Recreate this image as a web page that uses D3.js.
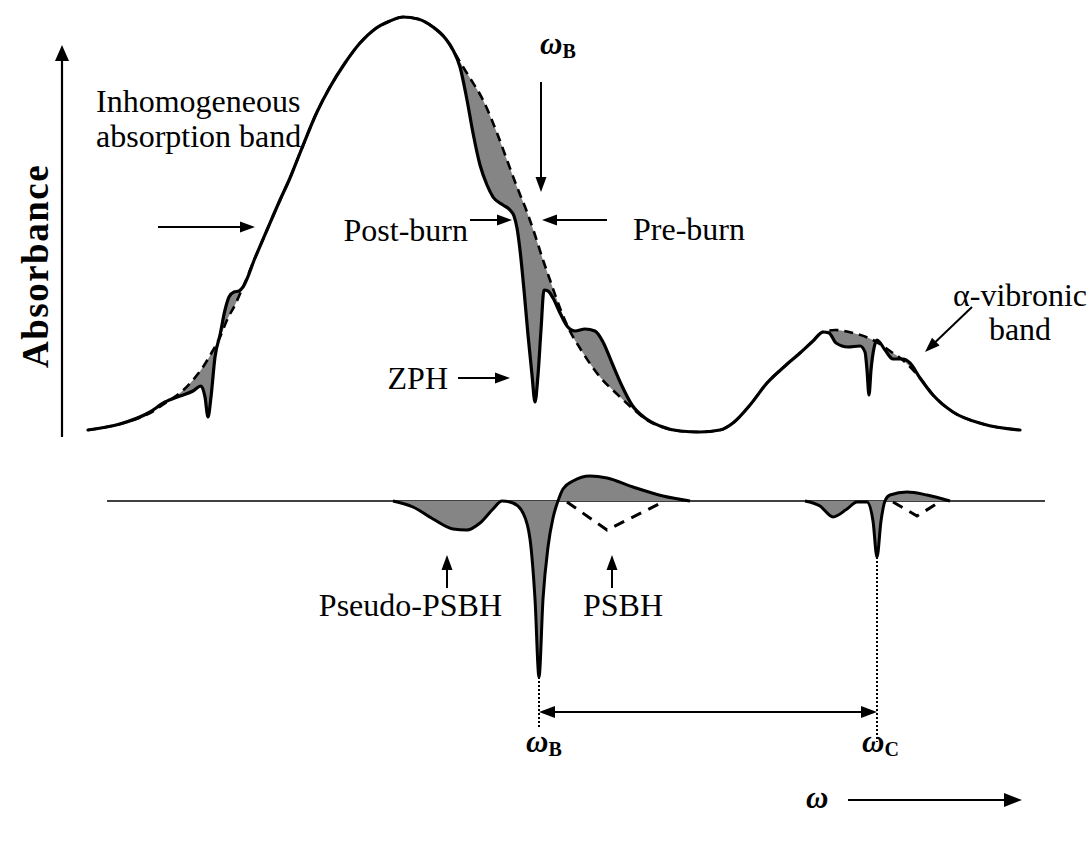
<!DOCTYPE html>
<html>
<head>
<meta charset="utf-8">
<script src="https://cdn.jsdelivr.net/npm/d3@7"></script>
<style>
  body { margin: 0; background: #fff; }
  svg { display: block; }
  text { font-family: "Liberation Serif", "Times New Roman", serif; fill: #000; }
</style>
</head>
<body>
<svg id="fig" width="1092" height="842"></svg>
<script>
// ---- Absorption spectra, [ω (arb. units), absorbance (arb. units)] ----
// Low-energy wing with the satellite hole and its antihole
const leftWingPre  = [[0,0.5],[3.2,2],[6.2,4.75],[7.9,7.5],[9.2,9.75],[10.5,13],[11.5,16.25],[12.4,20],[13.2,23.75],[14.0,28.5],[14.7,31.75]];
const leftWingPost = [[0,0.5],[3.2,2],[6.2,5],[7.7,7.5],[9.2,9],[10.5,10.25],[11.3,11.5],[11.7,8.75],[12.0,3.75],[12.3,8.75],[12.7,18.75],[13.2,24.25],[13.7,30.5],[14.1,33.75],[14.6,35],[15.1,35.25]];
// Rising edge and top of the inhomogeneous band (unchanged by burning)
const bandRise     = [[15.5,36.25],[16.7,43.5],[17.9,50.5],[19.2,58],[20.2,63.5],[21.2,69.75],[22.9,80],[24.2,86.25],[25.7,92.25],[27.2,97.25],[28.7,100.75],[30.2,102.75],[31.5,103.75],[33.0,103.25],[34.5,101.25],[35.7,98.5],[36.5,95.5]];
// High-energy side: pseudo-PSBH, ZPH and antihole
const blueSidePre  = [[37.2,92.5],[38.2,88.5],[39.5,83],[40.9,74.75],[41.9,68],[42.9,61.25],[43.9,55],[44.7,49.25],[45.5,43],[46.2,38],[46.9,33],[47.9,26.75],[49.5,19.75],[51.2,13.75],[52.9,9.5],[54.4,6],[55.9,3],[57.4,1.25],[59.2,0.25]];
const blueSidePost = [[37.2,91.25],[37.9,83],[38.5,74.75],[39.2,66.75],[39.9,61.75],[40.5,58.75],[41.5,56.75],[42.2,55.5],[42.6,54],[42.9,51],[43.2,45.5],[43.6,35.5],[44.0,24.25],[44.4,14.25],[44.7,7.5],[45.0,14.25],[45.3,25.5],[45.6,35.5],[46.0,35.25],[46.5,33.5],[47.2,29.75],[47.9,26.5],[48.7,25.25],[49.7,25.75],[50.7,25.25],[51.5,22.5],[52.4,17.25],[53.4,11.5],[54.4,6.75],[55.7,3.5],[57.2,1.5],[59.2,0.25]];
// Valley and rising edge of the α-vibronic band
const valley       = [[61.2,0],[63.2,0.5],[64.5,2.25],[66.2,6.75],[67.9,12.25],[69.7,16.5],[71.2,19.75],[72.5,22.75],[73.5,25]];
const vibronicPre  = [[74.7,25.5],[76.5,24.75],[78.5,23],[80.2,20.25],[81.7,17.5]];
const vibronicPost = [[74.1,24.75],[74.8,22.25],[76.0,21.25],[77.2,21.5],[77.7,20],[77.9,15.5],[78.1,9.25],[78.3,15.5],[78.6,21],[78.9,23],[79.7,20.5],[80.5,18.25],[81.5,18.25],[82.2,17.25]];
const highTail     = [[83.2,13.5],[84.5,9.25],[86.5,5],[89.5,2],[93.2,0.5]];

const preBurn  = [...leftWingPre,  ...bandRise, ...blueSidePre,  ...valley, ...vibronicPre,  ...highTail];
const postBurn = [...leftWingPost, ...bandRise, ...blueSidePost, ...valley, ...vibronicPost, ...highTail];

// ---- Hole spectra (post-burn minus pre-burn), [ω, ΔA] ----
const holeAtB = [[30.5,0],[32.5,-1.5],[34.5,-4.5],[36.5,-7],[37.9,-7.25],[39.2,-5.5],[40.5,-2],[41.4,0],[42.5,-0.5],[43.5,-3],[44.2,-9.5],[44.7,-24.5],[45.1,-44],[45.5,-24.5],[46.0,-11.5],[46.5,-4.25],[47.0,0],[47.5,3],[48.5,5],[50.2,6.25],[51.9,5.75],[54.5,3.5],[57.5,1.25],[60.2,0]];
const holeAtC = [[71.7,0],[73.2,-1.25],[74.5,-4],[75.9,-2],[76.9,-0.25],[77.9,-0.25],[78.5,-5],[78.9,-14],[79.3,-5],[79.7,0],[80.2,1.5],[81.9,2.25],[83.9,1.5],[86.2,0]];
// Real phonon-sideband holes hidden under the antiholes
const psbhAtB = [[47.9,-0.25],[51.9,-7.25],[57.5,-0.25]];
const psbhAtC = [[80.5,-0.25],[82.9,-3.75],[85.0,-0.5]];

// Burn and vibronic-hole frequencies
const omegaB = 45.1;
const omegaC = 78.9;

// ---- Scales ----
const x  = d3.scaleLinear().domain([0, 93.2]).range([88, 1020]);
const yA = d3.scaleLinear().domain([0, 100]).range([432, 32]);
const yD = d3.scaleLinear().domain([0, -10]).range([501, 541]);

const svg = d3.select("#fig");
const shade = "#858585";

const lineA = d3.line().x(d => x(d[0])).y(d => yA(d[1])).curve(d3.curveMonotoneX);
const areaA = d3.area().x(d => x(d[0])).y0(yA(-5)).y1(d => yA(d[1])).curve(d3.curveMonotoneX);
const lineD = d3.line().x(d => x(d[0])).y(d => yD(d[1])).curve(d3.curveMonotoneX);
const areaD = d3.area().x(d => x(d[0])).y0(yD(0)).y1(d => yD(d[1])).curve(d3.curveMonotoneX);

function arrow(g, x1, y1, x2, y2, o = {}) {
  const hl = o.head ?? 15, hw = o.hw ?? 5.5, sw = o.sw ?? 2;
  const dx = x2 - x1, dy = y2 - y1, L = Math.hypot(dx, dy), ux = dx / L, uy = dy / L;
  const bx = x2 - ux * hl, by = y2 - uy * hl;
  g.append("line").attr("x1", x1).attr("y1", y1).attr("x2", bx + ux * 2).attr("y2", by + uy * 2)
    .attr("stroke", "#000").attr("stroke-width", sw);
  g.append("path").attr("d", `M${x2},${y2}L${bx - uy * hw},${by + ux * hw}L${bx + uy * hw},${by - ux * hw}Z`)
    .attr("fill", "#000");
}

// ---- Upper panel: absorption before and after burning ----
const upper = svg.append("g");
// region between the two spectra
upper.append("path")
  .attr("d", areaA(preBurn) + areaA(postBurn))
  .attr("fill", shade).attr("fill-rule", "evenodd");
upper.append("path").attr("d", lineA(preBurn))
  .attr("fill", "none").attr("stroke", "#000").attr("stroke-width", 2.6)
  .attr("stroke-dasharray", "9,6");
upper.append("path").attr("d", lineA(postBurn))
  .attr("fill", "none").attr("stroke", "#000").attr("stroke-width", 3.2)
  .attr("stroke-linejoin", "round").attr("stroke-linecap", "round");

// ---- Lower panel: hole spectrum ----
const lower = svg.append("g");
lower.append("line").attr("x1", 107).attr("x2", 1045).attr("y1", yD(0)).attr("y2", yD(0))
  .attr("stroke", "#000").attr("stroke-width", 1.5);
[holeAtB, holeAtC].forEach(h => {
  lower.append("path").attr("d", areaD(h)).attr("fill", shade);
  lower.append("path").attr("d", lineD(h)).attr("fill", "none")
    .attr("stroke", "#000").attr("stroke-width", 3).attr("stroke-linejoin", "round");
});
[psbhAtB, psbhAtC].forEach(p => {
  lower.append("path").attr("d", d3.line().x(d => x(d[0])).y(d => yD(d[1]))(p))
    .attr("fill", "none").attr("stroke", "#000").attr("stroke-width", 3)
    .attr("stroke-dasharray", "11,8");
});

// dotted drop lines from the hole minima
const dropB = holeAtB.find(d => d[0] === omegaB);
const dropC = holeAtC.find(d => d[0] === omegaC);
lower.append("line").attr("x1", x(omegaB)).attr("x2", x(omegaB)).attr("y1", yD(dropB[1])).attr("y2", 728)
  .attr("stroke", "#000").attr("stroke-width", 2).attr("stroke-dasharray", "2,2");
lower.append("line").attr("x1", x(omegaC)).attr("x2", x(omegaC)).attr("y1", yD(dropC[1])).attr("y2", 742)
  .attr("stroke", "#000").attr("stroke-width", 2).attr("stroke-dasharray", "2,2");

// spacing between ω_B and ω_C
const ann = svg.append("g");
arrow(ann, (x(omegaB) + x(omegaC)) / 2, 712, x(omegaB), 712, { head: 16, hw: 6 });
arrow(ann, (x(omegaB) + x(omegaC)) / 2, 712, x(omegaC), 712, { head: 16, hw: 6 });

// ---- Axes arrows ----
arrow(ann, 62, 437, 62, 45, { head: 16, hw: 7, sw: 2.2 });
arrow(ann, 848, 800, 1022, 800, { head: 18, hw: 7, sw: 2.2 });

// ---- Annotation arrows ----
arrow(ann, 158, 227, 255, 227);                    // inhomogeneous band
arrow(ann, x(omegaB) + 2, 82, x(omegaB) + 2, 192); // burn position
arrow(ann, 470, 220, 512, 220);                    // post-burn
arrow(ann, 607, 220, 542, 220);                    // pre-burn
arrow(ann, 458, 378, 510, 378);                    // ZPH
arrow(ann, 972, 307, 925, 352);                    // α-vibronic band
arrow(ann, 447, 588, 447, 555);                    // pseudo-PSBH
arrow(ann, 612, 588, 612, 555);                    // PSBH

// ---- Labels ----
const fs = 32;
function label(tx, ty, str, anchor = "start") {
  return ann.append("text").attr("x", tx).attr("y", ty).attr("font-size", fs)
    .attr("text-anchor", anchor).text(str);
}
label(96, 112, "Inhomogeneous");
label(96, 147, "absorption band");
label(468, 241, "Post-burn", "end");
label(633, 240, "Pre-burn");
label(448, 389, "ZPH", "end");
label(1020, 306, "α-vibronic", "middle");
label(1020, 340, "band", "middle");
label(502, 616, "Pseudo-PSBH", "end");
label(583, 616, "PSBH");

ann.append("text")
  .attr("transform", "translate(48,266) rotate(-90)")
  .attr("text-anchor", "middle").attr("font-size", 37).attr("font-weight", "bold")
  .attr("letter-spacing", 1.5)
  .text("Absorbance");

function omegaLabel(tx, ty, sub) {
  const t = ann.append("text").attr("x", tx).attr("y", ty).attr("font-size", 31).attr("font-weight", "bold");
  t.append("tspan").attr("font-style", "italic").text("ω");
  if (sub) t.append("tspan").attr("font-size", 20).attr("dy", 4).text(sub);
}
omegaLabel(540, 54, "B");
omegaLabel(526, 752, "B");
omegaLabel(862, 752, "C");
omegaLabel(806, 808, "");
</script>
</body>
</html>
